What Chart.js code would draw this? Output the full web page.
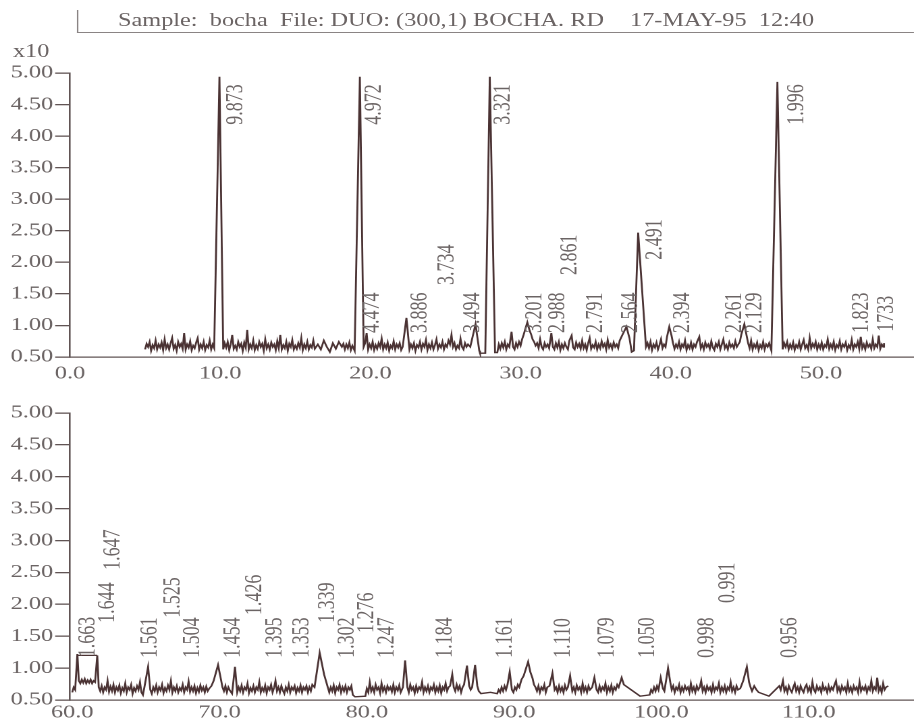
<!DOCTYPE html>
<html>
<head>
<meta charset="utf-8">
<script src="https://cdn.jsdelivr.net/npm/chart.js"></script>
<style>
  html, body { margin: 0; padding: 0; background: #ffffff; overflow: hidden; }
  #wrap { position: relative; width: 680px; height: 725px; transform: scaleX(1.35); transform-origin: 0 0; }
  .txt { position: absolute; font-family: 'Liberation Serif', 'Times New Roman', serif; font-size: 18px; line-height: 18px; color: #6b6464; white-space: pre; }
  #frame { position: absolute; left: 57px; top: 10px; width: 619px; height: 22px; border-left: 1px solid #8a8484; border-bottom: 1px solid #8a8484; }
  canvas { position: absolute; left: 0; }
</style>
</head>
<body>
<div id="wrap">
  <div id="frame"></div>
  <div class="txt" style="left:87.4px; top:10.5px;">Sample:  bocha  File: DUO: (300,1) BOCHA. RD</div>
  <div class="txt" style="left:466.7px; top:10.5px;">17-MAY-95  12:40</div>
  <div class="txt" style="left:9.6px; top:42px;">x10</div>
  <canvas id="topChart" width="680" height="385" style="top:0px;"></canvas>
  <canvas id="bottomChart" width="680" height="340" style="top:385px;"></canvas>
</div>
<script>
// ---------------- data (2-theta, counts x10) ----------------
const topTicksX = [0, 10, 20, 30, 40, 50];
const bottomTicksX = [60, 70, 80, 90, 100, 110];
const ticksY = [0.5, 1.0, 1.5, 2.0, 2.5, 3.0, 3.5, 4.0, 4.5, 5.0];

const topScan = [
  [5.0,.62],[5.1,.71],[5.2,.66],[5.3,.74],[5.4,.60],[5.5,.69],[5.6,.64],[5.7,.76],[5.8,.62],[5.9,.70],
  [6.0,.65],[6.1,.73],[6.2,.61],[6.3,.78],[6.4,.64],[6.5,.70],[6.6,.62],[6.7,.72],[6.8,.80],[6.9,.63],
  [7.0,.69],[7.1,.60],[7.2,.74],[7.3,.66],[7.4,.71],[7.5,.63],[7.6,.88],[7.7,.62],[7.8,.70],[7.9,.65],
  [8.0,.75],[8.1,.61],[8.2,.68],[8.3,.64],[8.4,.73],[8.5,.80],[8.6,.62],[8.7,.70],[8.8,.64],[8.9,.74],
  [9.0,.61],[9.1,.69],[9.2,.65],[9.3,.76],[9.4,.62],[9.5,.70],[9.6,.64],[9.95,4.94],
  [10.2,.62],[10.3,.72],[10.4,.65],[10.5,.74],[10.6,.61],[10.7,.70],[10.8,.85],[10.9,.63],[11.0,.68],[11.1,.62],
  [11.2,.74],[11.3,.66],[11.4,.71],[11.5,.60],[11.6,.73],[11.7,.65],[11.8,.93],[11.9,.62],[12.0,.70],[12.1,.64],
  [12.2,.76],[12.3,.61],[12.4,.69],[12.5,.63],[12.6,.74],[12.7,.66],[12.8,.71],[12.9,.60],[13.0,.78],[13.1,.64],
  [13.2,.70],[13.3,.62],[13.4,.73],[13.5,.66],[13.6,.70],[13.7,.61],[13.8,.75],[13.9,.64],[14.0,.85],[14.1,.62],
  [14.2,.69],[14.3,.64],[14.4,.74],[14.5,.60],[14.6,.71],[14.7,.66],[14.8,.77],[14.9,.62],[15.0,.68],[15.1,.63],
  [15.2,.72],[15.3,.65],[15.4,.80],[15.5,.61],[15.6,.70],[15.7,.64],[15.8,.74],[15.9,.62],[16.0,.69],[16.1,.65],
  [16.2,.76],[16.3,.63],[16.5,.70],[16.7,.62],[16.9,.76],[17.1,.66],[17.3,.58],[17.5,.72],[17.7,.63],[17.9,.74],
  [18.1,.66],[18.2,.71],[18.3,.62],[18.4,.70],[18.5,.64],[18.6,.73],[18.7,.61],[18.8,.68],[18.95,.60],
  [19.3,4.94],[19.55,.66],[19.65,.72],[19.75,.88],[19.85,.62],[19.95,.70],[20.05,.64],[20.15,.74],[20.25,.61],[20.35,.69],
  [20.45,.63],[20.55,.72],[20.65,.66],[20.75,.79],[20.85,.62],[20.95,.70],[21.05,.64],[21.15,.73],[21.25,.60],[21.35,.68],
  [21.45,.64],[21.55,.75],[21.65,.62],[21.75,.70],[21.85,.65],[21.95,.72],[22.05,.61],[22.15,.66],[22.4,1.12],[22.6,.62],
  [22.7,.70],[22.8,.64],[22.9,.72],[23.0,.60],[23.1,.69],[23.2,.65],[23.3,.74],[23.4,.62],[23.5,.71],[23.6,.66],
  [23.7,.77],[23.8,.61],[23.9,.70],[24.0,.64],[24.1,.73],[24.2,.62],[24.3,.69],[24.4,.78],[24.5,.63],[24.6,.70],
  [24.7,.65],[24.8,.74],[24.9,.62],[25.0,.70],[25.1,.66],[25.2,.76],[25.3,.70],[25.4,.85],[25.5,.66],[25.6,.72],
  [25.7,.62],[25.8,.68],[25.9,.64],[26.0,.79],[26.1,.66],[26.2,.62],[26.3,.72],[26.4,.66],[26.5,.70],[26.65,.66],
  [27.0,1.02],[27.25,.60],[27.3,.56],[27.65,.56],[27.95,4.94],[28.3,.57],[28.45,.57],
  [28.55,.70],[28.65,.63],[28.75,.72],[28.85,.65],[28.95,.74],[29.05,.62],[29.15,.70],[29.25,.66],[29.4,.90],[29.5,.66],
  [29.6,.62],[29.7,.72],[29.8,.66],[29.9,.74],[30.0,.68],[30.1,.78],[30.2,.85],[30.45,1.05],[30.6,.92],[30.7,.86],
  [30.8,.78],[30.9,.74],[31.0,.68],[31.1,.72],[31.2,.64],[31.3,.78],[31.4,.66],[31.5,.62],[31.6,.72],[31.7,.66],
  [31.8,.70],[31.9,.64],[32.05,.88],[32.15,.66],[32.25,.62],[32.35,.72],[32.45,.65],[32.55,.74],[32.65,.61],[32.75,.70],
  [32.85,.64],[32.95,.72],[33.05,.66],[33.15,.62],[33.25,.76],[33.4,.84],[33.5,.65],[33.6,.62],[33.7,.73],[33.8,.66],
  [33.9,.71],[34.0,.63],[34.1,.76],[34.2,.64],[34.3,.70],[34.4,.61],[34.5,.72],[34.6,.80],[34.7,.63],[34.8,.69],
  [34.9,.65],[35.0,.74],[35.1,.62],[35.2,.70],[35.3,.64],[35.4,.75],[35.5,.66],[35.6,.71],[35.7,.62],[35.8,.77],
  [35.9,.65],[36.0,.70],[36.1,.63],[36.2,.73],[36.3,.66],[36.4,.70],[36.5,.64],[36.6,.76],[36.8,.86],[37.05,.98],
  [37.25,.80],[37.4,.58],[37.55,.60],[37.83,2.47],[38.35,.66],[38.45,.72],[38.55,.64],[38.65,.74],[38.75,.61],[38.85,.70],
  [38.95,.65],[39.05,.73],[39.15,.62],[39.25,.69],[39.35,.78],[39.45,.64],[39.55,.70],[39.65,.66],[39.75,.82],[39.9,.98],
  [40.05,.84],[40.15,.72],[40.25,.63],[40.35,.70],[40.45,.65],[40.55,.74],[40.65,.62],[40.75,.70],[40.85,.66],[40.95,.76],
  [41.05,.61],[41.15,.69],[41.25,.64],[41.35,.73],[41.45,.62],[41.55,.70],[41.65,.66],[41.75,.74],[41.9,.82],[42.0,.64],
  [42.1,.70],[42.2,.62],[42.3,.73],[42.4,.66],[42.5,.70],[42.6,.63],[42.7,.75],[42.8,.65],[42.9,.61],[43.0,.71],
  [43.1,.66],[43.2,.74],[43.3,.62],[43.4,.70],[43.5,.78],[43.6,.64],[43.7,.69],[43.8,.62],[43.9,.73],[44.0,.66],
  [44.1,.70],[44.2,.64],[44.3,.75],[44.4,.66],[44.5,.70],[44.6,.74],[44.7,.86],[44.9,1.02],[45.05,.84],[45.15,.72],
  [45.25,.64],[45.35,.76],[45.45,.62],[45.55,.70],[45.65,.65],[45.75,.73],[45.85,.61],[45.95,.69],[46.05,.64],[46.15,.74],
  [46.25,.62],[46.35,.70],[46.45,.66],[46.55,.72],[46.7,.60],[47.1,4.86],[47.45,.62],[47.55,.72],[47.65,.66],[47.75,.74],
  [47.85,.62],[47.95,.70],[48.05,.64],[48.15,.73],[48.25,.61],[48.35,.69],[48.45,.65],[48.55,.74],[48.65,.62],[48.75,.70],
  [48.85,.77],[48.95,.64],[49.05,.69],[49.15,.62],[49.25,.80],[49.35,.64],[49.45,.71],[49.55,.66],[49.65,.74],[49.75,.62],
  [49.85,.70],[49.95,.64],[50.05,.73],[50.15,.62],[50.25,.69],[50.35,.66],[50.45,.78],[50.55,.63],[50.65,.70],[50.75,.64],
  [50.85,.74],[50.95,.61],[51.05,.69],[51.15,.65],[51.25,.75],[51.35,.62],[51.45,.70],[51.55,.66],[51.65,.73],[51.75,.61],
  [51.85,.69],[51.95,.64],[52.05,.77],[52.15,.62],[52.25,.70],[52.35,.66],[52.45,.74],[52.55,.63],[52.65,.82],[52.75,.64],
  [52.85,.70],[52.95,.62],[53.05,.73],[53.15,.66],[53.25,.70],[53.35,.63],[53.45,.78],[53.55,.64],[53.65,.70],[53.75,.66],
  [53.85,.84],[53.95,.63],[54.05,.70],[54.15,.66],[54.2,.72]
];

const bottomScan = [
  [60.0,.62],[60.1,.70],[60.2,.66],[60.35,1.22],[60.45,.80],[60.55,.76],[60.65,.82],[60.75,.77],[60.85,.83],[60.95,.76],
  [61.05,.81],[61.15,.77],[61.25,.82],[61.35,.76],[61.45,.80],[61.55,.78],[61.7,1.20],[61.8,.70],[61.9,.64],[62.0,.72],
  [62.1,.62],[62.2,.70],[62.3,.66],[62.4,.80],[62.5,.63],[62.6,.71],[62.7,.64],[62.8,.74],[62.9,.62],[63.0,.70],
  [63.1,.65],[63.2,.73],[63.3,.61],[63.4,.69],[63.5,.64],[63.6,.76],[63.7,.62],[63.8,.70],[63.9,.66],[64.0,.74],
  [64.1,.60],[64.2,.69],[64.3,.64],[64.4,.72],[64.5,.66],[64.6,.78],[64.7,.62],[64.8,.58],[64.9,.70],[65.15,1.02],
  [65.3,.66],[65.4,.60],[65.5,.70],[65.6,.64],[65.7,.73],[65.8,.62],[65.9,.70],[66.0,.65],[66.1,.74],[66.2,.61],
  [66.3,.69],[66.4,.64],[66.5,.73],[66.6,.66],[66.7,.80],[66.8,.62],[66.9,.70],[67.0,.64],[67.1,.72],[67.2,.62],
  [67.3,.69],[67.4,.65],[67.5,.74],[67.6,.62],[67.7,.70],[67.8,.66],[67.9,.79],[68.0,.63],[68.1,.70],[68.2,.64],
  [68.3,.72],[68.4,.61],[68.5,.69],[68.6,.63],[68.7,.73],[68.8,.65],[68.9,.70],[69.0,.62],[69.1,.71],[69.2,.64],
  [69.3,.68],[69.45,.72],[69.6,.80],[69.9,1.05],[70.1,.82],[70.2,.70],[70.3,.64],[70.4,.72],[70.5,.62],[70.6,.70],
  [70.7,.65],[70.85,.60],[71.05,1.02],[71.2,.62],[71.3,.70],[71.4,.64],[71.5,.73],[71.6,.62],[71.7,.70],[71.8,.66],
  [71.9,.76],[72.0,.61],[72.1,.69],[72.2,.64],[72.3,.72],[72.4,.62],[72.5,.70],[72.6,.66],[72.7,.78],[72.8,.62],
  [72.9,.69],[73.0,.64],[73.1,.73],[73.2,.61],[73.3,.70],[73.4,.66],[73.5,.74],[73.6,.62],[73.7,.69],[73.8,.80],
  [73.9,.64],[74.0,.70],[74.1,.62],[74.2,.72],[74.3,.65],[74.4,.60],[74.5,.70],[74.6,.64],[74.7,.74],[74.8,.62],
  [74.9,.70],[75.0,.66],[75.1,.72],[75.2,.61],[75.3,.69],[75.4,.64],[75.5,.73],[75.6,.62],[75.7,.70],[75.8,.66],
  [75.9,.72],[76.0,.62],[76.1,.70],[76.2,.64],[76.3,.74],[76.45,.70],[76.8,1.24],[77.1,.90],[77.45,.62],[77.55,.70],
  [77.65,.64],[77.75,.73],[77.85,.61],[77.95,.70],[78.05,.66],[78.15,.74],[78.25,.62],[78.35,.70],[78.45,.64],[78.55,.72],
  [78.65,.62],[78.75,.70],[78.85,.66],[78.95,.72],[79.05,.58],[79.2,.55],[79.9,.56],[80.0,.68],[80.1,.62],[80.2,.78],
  [80.3,.64],[80.4,.70],[80.5,.62],[80.6,.74],[80.7,.66],[80.8,.70],[80.9,.61],[81.0,.76],[81.1,.64],[81.2,.70],
  [81.3,.62],[81.4,.72],[81.5,.66],[81.6,.70],[81.7,.63],[81.8,.74],[81.9,.62],[82.0,.70],[82.1,.65],[82.2,.73],
  [82.3,.62],[82.45,.70],[82.6,1.12],[82.75,.70],[82.85,.62],[82.95,.74],[83.05,.66],[83.15,.70],[83.25,.61],[83.35,.72],
  [83.45,.64],[83.55,.70],[83.65,.66],[83.75,.78],[83.85,.62],[83.95,.70],[84.05,.64],[84.15,.72],[84.25,.62],[84.35,.70],
  [84.45,.66],[84.55,.74],[84.65,.62],[84.75,.70],[84.85,.64],[84.95,.73],[85.05,.61],[85.15,.70],[85.25,.66],[85.35,.76],
  [85.45,.64],[85.55,.70],[85.65,.72],[85.8,.90],[85.9,.70],[86.0,.64],[86.1,.74],[86.2,.66],[86.3,.72],[86.4,.62],
  [86.5,.70],[86.6,.74],[86.8,1.04],[86.95,.72],[87.05,.66],[87.15,.70],[87.35,1.05],[87.5,.72],[87.6,.64],[87.75,.60],
  [88.4,.62],[88.85,.60],[88.95,.66],[89.05,.62],[89.15,.70],[89.25,.64],[89.35,.72],[89.45,.66],[89.55,.74],[89.7,.94],
  [89.85,.66],[89.95,.62],[90.05,.70],[90.15,.66],[90.25,.74],[90.35,.70],[90.5,.82],[90.65,.88],[90.95,1.10],[91.1,.94],
  [91.25,.84],[91.35,.74],[91.45,.70],[91.55,.64],[91.65,.72],[91.75,.62],[91.85,.70],[91.95,.66],[92.05,.74],[92.15,.62],
  [92.25,.70],[92.4,.72],[92.6,.92],[92.75,.66],[92.85,.70],[92.95,.62],[93.05,.72],[93.15,.64],[93.25,.70],[93.35,.62],
  [93.45,.73],[93.55,.66],[93.65,.70],[93.8,.88],[93.95,.64],[94.05,.70],[94.15,.62],[94.25,.73],[94.35,.66],[94.45,.70],
  [94.55,.62],[94.65,.76],[94.75,.64],[94.85,.70],[94.95,.62],[95.05,.72],[95.15,.66],[95.3,.70],[95.45,.85],[95.6,.66],
  [95.7,.62],[95.8,.72],[95.9,.64],[96.0,.70],[96.1,.66],[96.2,.76],[96.3,.62],[96.4,.70],[96.5,.64],[96.6,.73],
  [96.7,.62],[96.8,.70],[96.9,.66],[97.0,.74],[97.1,.70],[97.3,.85],[97.45,.74],[98.55,.56],[99.2,.58],[99.3,.66],
  [99.4,.62],[99.5,.70],[99.6,.64],[99.7,.72],[99.8,.66],[99.95,.85],[100.1,.68],[100.2,.64],[100.45,1.00],[100.6,.78],
  [100.7,.66],[100.8,.72],[100.9,.62],[101.0,.70],[101.1,.66],[101.2,.74],[101.3,.62],[101.4,.70],[101.5,.64],[101.6,.72],
  [101.7,.66],[101.8,.70],[101.9,.62],[102.0,.76],[102.1,.64],[102.2,.70],[102.3,.62],[102.4,.72],[102.5,.66],[102.6,.70],
  [102.7,.80],[102.8,.64],[102.9,.70],[103.0,.62],[103.1,.72],[103.2,.66],[103.3,.70],[103.4,.62],[103.5,.74],[103.6,.64],
  [103.7,.70],[103.8,.66],[103.9,.76],[104.0,.62],[104.1,.70],[104.2,.64],[104.3,.72],[104.4,.62],[104.5,.70],[104.6,.66],
  [104.7,.78],[104.8,.64],[104.9,.70],[105.0,.62],[105.1,.72],[105.2,.66],[105.35,.68],[105.55,.80],[105.8,1.02],[105.95,.78],
  [106.05,.70],[106.15,.64],[106.3,.72],[106.45,.66],[106.6,.62],[107.3,.56],[108.0,.72],[108.1,.66],[108.25,.80],[108.35,.64],
  [108.45,.70],[108.55,.62],[108.65,.72],[108.75,.66],[108.85,.62],[108.95,.70],[109.05,.76],[109.15,.64],[109.25,.70],[109.35,.62],
  [109.45,.72],[109.55,.66],[109.65,.62],[109.75,.70],[109.85,.74],[109.95,.64],[110.05,.70],[110.15,.62],[110.25,.78],[110.35,.66],
  [110.45,.62],[110.55,.72],[110.65,.66],[110.75,.70],[110.85,.62],[110.95,.74],[111.05,.66],[111.15,.70],[111.25,.62],[111.35,.72],
  [111.45,.64],[111.55,.70],[111.65,.66],[111.75,.74],[111.85,.80],[111.95,.64],[112.05,.70],[112.15,.62],[112.25,.72],[112.35,.66],
  [112.45,.70],[112.55,.62],[112.65,.76],[112.75,.64],[112.85,.70],[112.95,.62],[113.05,.72],[113.15,.66],[113.25,.70],[113.35,.62],
  [113.45,.78],[113.55,.64],[113.65,.70],[113.75,.66],[113.85,.72],[113.95,.62],[114.05,.70],[114.15,.66],[114.25,.80],[114.35,.64],
  [114.45,.70],[114.55,.66],[114.65,.85],[114.75,.64],[114.85,.70],[114.95,.62],[115.05,.76],[115.15,.66],[115.25,.70],[115.4,.72]
];

// bracket drawn over the 1.663 / 1.644 doublet
const bottomBracket = [[60.35,1.20],[61.7,1.20]];

// peak d-spacing labels: [2-theta anchor, text, counts level where the label starts]
const topPeakLabels = [
  [11.05,'9.873',4.18],[20.24,'4.972',4.18],[28.83,'3.321',4.18],[48.40,'1.996',4.18],
  [20.11,'4.474',0.88],[23.30,'3.886',0.88],[25.10,'3.734',1.64],[26.83,'3.494',0.88],
  [30.96,'3.201',0.88],[32.49,'2.988',0.88],[33.29,'2.861',1.80],[35.02,'2.791',0.88],
  [37.35,'2.564',0.88],[38.95,'2.491',2.04],[40.81,'2.394',0.88],[44.27,'2.261',0.88],
  [45.61,'2.129',0.88],[52.73,'1.823',0.88],[54.39,'1733',0.90]
];
const bottomPeakLabels = [
  [61.07,'1.663',1.17],[62.43,'1.644',1.71],[62.77,'1.647',2.54],[65.28,'1.561',1.16],
  [66.84,'1.525',1.79],[68.20,'1.504',1.16],[70.92,'1.454',1.16],[72.41,'1.426',1.83],
  [73.77,'1.395',1.16],[75.60,'1.353',1.16],[77.37,'1.339',1.71],[78.66,'1.302',1.16],
  [80.01,'1.276',1.55],[81.37,'1.247',1.16],[85.31,'1.184',1.16],[89.38,'1.161',1.16],
  [93.32,'1.110',1.16],[96.31,'1.079',1.16],[99.09,'1.050',1.16],[103.1,'0.998',1.16],
  [104.5,'0.991',2.02],[108.73,'0.956',1.16]
];

// ---------------- styling ----------------
const TRACE = '#4a3233';
const AXIS = '#615454';
const TEXT = '#6b6464';
const FONT = "'Liberation Serif', 'Times New Roman', serif";

const peakLabelPlugin = {
  id: 'peakLabels',
  afterDatasetsDraw(chart, args, opts) {
    const ctx = chart.ctx;
    const xs = chart.scales.x, ys = chart.scales.y;
    ctx.save();
    ctx.fillStyle = TEXT;
    ctx.font = '18px ' + FONT;
    ctx.textAlign = 'left';
    ctx.textBaseline = 'middle';
    for (const [xv, txt, yv] of opts.labels) {
      const px = xs.getPixelForValue(xv);
      const py = ys.getPixelForValue(yv);
      ctx.save();
      ctx.translate(px, py);
      ctx.rotate(-Math.PI / 2);
      ctx.fillText(txt, 0, 0);
      ctx.restore();
    }
    ctx.restore();
  }
};

function makeChart(id, scan, extra, labels, xMin, xMax, xTicks, padTop, axisHeight, labelPad) {
  const datasets = [{
    data: scan.map(p => ({x: p[0], y: p[1]})),
    borderColor: TRACE, borderWidth: 1.4, pointRadius: 0, tension: 0, fill: false
  }];
  if (extra) {
    datasets.push({
      data: extra.map(p => ({x: p[0], y: p[1]})),
      borderColor: TRACE, borderWidth: 1.3, pointRadius: 0, tension: 0, fill: false
    });
  }
  return new Chart(document.getElementById(id), {
    type: 'line',
    data: { datasets },
    plugins: [peakLabelPlugin],
    options: {
      responsive: false,
      animation: false,
      devicePixelRatio: 2,
      layout: { padding: { left: 0, right: 3.7, top: padTop, bottom: 0 } },
      plugins: {
        legend: { display: false },
        tooltip: { enabled: false },
        peakLabels: { labels }
      },
      scales: {
        x: {
          type: 'linear', min: xMin, max: xMax,
          afterBuildTicks: s => { s.ticks = xTicks.map(v => ({value: v})); },
          afterFit: s => { s.height = axisHeight; },
          grid: { display: false, drawTicks: false },
          border: { display: true, color: AXIS, width: 1.3 },
          ticks: {
            autoSkip: false, maxRotation: 0, padding: labelPad, color: TEXT,
            font: { family: FONT, size: 18 },
            callback: v => Number(v).toFixed(1)
          }
        },
        y: {
          type: 'linear', min: 0.5, max: 5.0,
          afterBuildTicks: s => { s.ticks = ticksY.map(v => ({value: v})); },
          afterFit: s => { s.width = 51.85; },
          grid: { display: true, drawOnChartArea: false, drawTicks: true, tickLength: 11, color: AXIS, lineWidth: 1.3 },
          border: { display: true, color: AXIS, width: 1.3 },
          ticks: {
            padding: 1.5, color: TEXT,
            font: { family: FONT, size: 18 },
            callback: v => Number(v).toFixed(2)
          }
        }
      }
    }
  });
}

makeChart('topChart', topScan, null, topPeakLabels, 0, 56.13, topTicksX, 73, 28, 6);
makeChart('bottomChart', bottomScan, bottomBracket, bottomPeakLabels, 59.85, 117.08, bottomTicksX, 28, 25, 2);
</script>
</body>
</html>
